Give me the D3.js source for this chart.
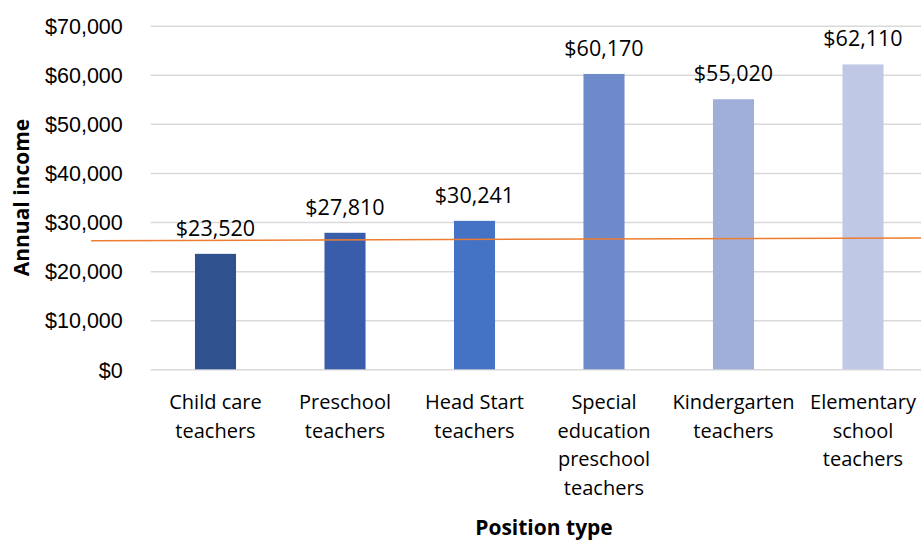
<!DOCTYPE html>
<html>
<head>
<meta charset="utf-8">
<script src="https://cdn.jsdelivr.net/npm/d3@7"></script>
<style>
  html, body { margin: 0; padding: 0; background: #fff; }
  svg { display: block; font-family: "Open Sans", "Liberation Sans", sans-serif; }
</style>
</head>
<body>
<svg id="chart" width="921" height="541"></svg>
<script>
// Annual income by teaching position
const categories = [
  ["Child care", "teachers"],
  ["Preschool", "teachers"],
  ["Head Start", "teachers"],
  ["Special", "education", "preschool", "teachers"],
  ["Kindergarten", "teachers"],
  ["Elementary", "school", "teachers"]
];
const incomes = [23520, 27810, 30241, 60170, 55020, 62110];
const barColors = ["#2F528F", "#3A5DAB", "#4472C4", "#6F8ACB", "#9FAFDA", "#BFC9E5"];
const yTicks = [0, 10000, 20000, 30000, 40000, 50000, 60000, 70000];
// Reference line, positioned in category-step units along the x axis
const refLine = [
  { pos: -0.46, value: 26200 },
  { pos: 6.10, value: 26760 }
];

const svg = d3.select("#chart");
const plotLeft = 150.75, plotRight = 927.75, plotTop = 25.7, plotBottom = 369.3;

const x = d3.scaleBand()
  .domain(d3.range(categories.length))
  .range([plotLeft, plotRight])
  .paddingInner(0.683)
  .paddingOuter(0.3415);

const xStep = d3.scaleLinear().domain([0, categories.length]).range([plotLeft, plotRight]);

const y = d3.scaleLinear().domain([0, 70000]).range([plotBottom, plotTop]);

const fmt = v => "$" + d3.format(",")(v);

// Gridlines and y tick labels
const yAxis = d3.axisLeft(y)
  .tickValues(yTicks)
  .tickSize(-(plotRight - plotLeft))
  .tickPadding(28)
  .tickFormat(fmt);

const gy = svg.append("g")
  .attr("transform", `translate(${plotLeft},0)`)
  .call(yAxis);
gy.select(".domain").remove();
gy.selectAll(".tick line").attr("stroke", "#D9D9D9").attr("stroke-width", 1.5);
gy.selectAll(".tick text")
  .attr("fill", "#000")
  .style("font-size", "21.5px")
  .attr("dy", "0.36em");

// Bars
svg.append("g").selectAll("rect")
  .data(incomes)
  .join("rect")
  .attr("x", (d, i) => x(i))
  .attr("width", x.bandwidth())
  .attr("y", d => y(d))
  .attr("height", d => y(0) - y(d))
  .attr("fill", (d, i) => barColors[i]);

// Value labels
svg.append("g").selectAll("text")
  .data(incomes)
  .join("text")
  .attr("x", (d, i) => x(i) + x.bandwidth() / 2)
  .attr("y", d => y(d) - 18)
  .attr("text-anchor", "middle")
  .style("font-size", "21.5px")
  .attr("fill", "#000")
  .text(fmt);

// Category labels
const cat = svg.append("g").selectAll("text")
  .data(categories)
  .join("text")
  .attr("text-anchor", "middle")
  .attr("x", (d, i) => x(i) + x.bandwidth() / 2)
  .attr("y", 409)
  .style("font-size", "20px")
  .attr("fill", "#000");
cat.selectAll("tspan")
  .data(d => d)
  .join("tspan")
  .attr("x", function () { return d3.select(this.parentNode).attr("x"); })
  .attr("dy", (d, i) => i === 0 ? 0 : 28.5)
  .text(d => d);

// Reference line
svg.append("path")
  .datum(refLine)
  .attr("fill", "none")
  .attr("stroke", "#ED7D31")
  .attr("stroke-width", 1.5)
  .attr("d", d3.line().x(d => xStep(d.pos)).y(d => y(d.value)));

// Axis titles
svg.append("text")
  .attr("transform", "translate(29,197.5) rotate(-90)")
  .attr("text-anchor", "middle")
  .style("font-size", "21px")
  .style("font-weight", "bold")
  .attr("fill", "#000")
  .text("Annual income");

svg.append("text")
  .attr("x", 544)
  .attr("y", 535)
  .attr("text-anchor", "middle")
  .style("font-size", "21px")
  .style("font-weight", "bold")
  .attr("fill", "#000")
  .text("Position type");
</script>
</body>
</html>
